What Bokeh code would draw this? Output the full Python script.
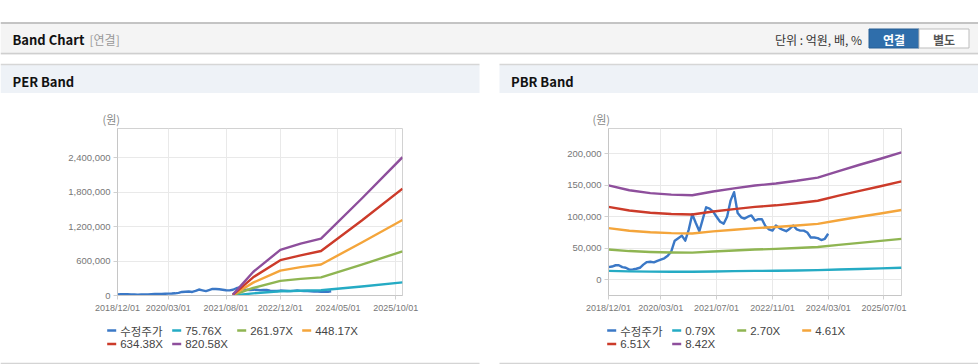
import pandas as pd
from bokeh.plotting import figure
from bokeh.layouts import column, row
from bokeh.models import Range1d, FixedTicker, DatetimeTickFormatter, NumeralTickFormatter
from bokeh.core.properties import value
from bokeh.embed import file_html
from bokeh.resources import INLINE

KR = "Noto Sans CJK KR"
LAT = "Liberation Sans"

# ---------------- data ----------------
price_start = "2018-12-01"
price = [20000, 21000, 23000, 23000, 20000, 19000, 16000, 16500, 17500, 19000,
         24000, 28000, 28500, 27500, 30000, 32000, 34000, 38000, 45000, 62000,
         66000, 70000, 62000, 80000, 104000, 90000, 77000, 95000, 115000, 113000,
         108000, 100000, 92000, 89000, 100000, 126000, 139000, 106000, 99000, 97000,
         100000, 102000, 94000, 96000, 96000, 85000, 80000, 78000, 86000, 82000,
         79000, 77000, 81000, 86000, 80000, 78000, 78000, 75000, 67000, 67000,
         66000, 63000, 65000, 73000]

per_dates = ["2021/10/01", "2022/04/01", "2022/12/01", "2023/06/01", "2023/12/01", "2024/12/01", "2025/12/01"]
per_labels = ["수정주가", "75.76X", "261.97X", "448.17X", "634.38X", "820.58X"]
per_0758 = [1400, 37800, 73400, 83500, 91400, 156000, 228000]
per_2620 = [4800, 131000, 254000, 289000, 316000, 539000, 769000]
per_4482 = [8200, 224000, 434000, 494000, 541000, 923000, 1316000]
per_6344 = [11600, 317000, 615000, 700000, 775000, 1307000, 1863000]
per_8206 = [15000, 410000, 795000, 905000, 990000, 1690000, 2410000]

pbr_dates = ["2018/12/01", "2019/06/01", "2019/12/01", "2020/06/01", "2020/12/01", "2021/06/01",
             "2021/12/01", "2022/06/01", "2022/12/01", "2023/06/01", "2023/12/01", "2024/06/01",
             "2024/12/01", "2025/06/01", "2025/12/01"]
pbr_labels = ["수정주가", "0.79X", "2.70X", "4.61X", "6.51X", "8.42X"]
pbr_079 = [14000, 13300, 12900, 12700, 12600, 13100, 13600, 14000, 14300, 14700, 15200, 16200, 17100, 18000, 19000]
pbr_270 = [48000, 45500, 44100, 43300, 43000, 44900, 46500, 47900, 49000, 50300, 51900, 55300, 58500, 61600, 64800]
pbr_461 = [82000, 77700, 75300, 73900, 73400, 76700, 79400, 81900, 83700, 86000, 88700, 94400, 99900, 105100, 110600]
pbr_651 = [115700, 109800, 106300, 104400, 103600, 108200, 112100, 115600, 118100, 121400, 125300, 133400, 141100, 148400, 156200]
pbr_842 = [149700, 142000, 137500, 135000, 134000, 140000, 145000, 149500, 152800, 157000, 162000, 172500, 182500, 192000, 202000]

per_xticks = ["2018/12/01", "2020/03/01", "2021/08/01", "2022/12/01", "2024/05/01", "2025/10/01"]
pbr_xticks = ["2018/12/01", "2020/03/01", "2021/07/01", "2022/11/01", "2024/03/01", "2025/07/01"]
per_yticks = [0, 600000, 1200000, 1800000, 2400000]
pbr_yticks = [0, 50000, 100000, 150000, 200000]

colors = ["#3b78c6", "#25abc4", "#8fb552", "#f4a53b", "#cc3b2a", "#8e4f9c"]

# ---------------- helpers ----------------
def ts(s):
    return pd.Timestamp(s.replace("/", "-"))

def ms(s):
    return ts(s).value // 10**6

price_x = pd.date_range(price_start, periods=len(price), freq="MS")
LW = 2.4


def deco(w, h, x0, x1, y0, y1):
    f = figure(width=w, height=h, x_range=Range1d(x0, x1), y_range=Range1d(y1, y0),
               output_backend="svg", toolbar_location=None, min_border=0,
               x_axis_location=None, y_axis_location=None)
    f.grid.visible = False
    f.outline_line_color = None
    f.background_fill_color = "white"
    f.border_fill_color = "white"
    return f


def txt(f, x, y, s, font=KR, size="12px", color="#333", bold=False, align="left"):
    f.text(x=[x], y=[y], text=[s], text_font=value(font), text_font_size=size,
           text_color=color, text_font_style="bold" if bold else "normal",
           text_align=align, text_baseline="middle")


def hline(f, x0, x1, y, color, w=1):
    f.segment(x0=[x0], y0=[y], x1=[x1], y1=[y], line_color=color, line_width=w)


# ---------------- header (page y 0..93) ----------------
H = deco(978, 93, 0, 978, 0, 93)
H.quad(left=[0], right=[978], top=[23], bottom=[52.5], fill_color="#f4f4f4", line_color=None)
hline(H, 0, 978, 22.5, "#b0b0b0", 1.5)
hline(H, 0, 978, 52.8, "#c4c4c4", 1)
hline(H, 0, 978, 54, "#ebebeb", 1)
txt(H, 12, 38.5, "Band Chart", size="13px", color="#111", bold=True)
txt(H, 89, 38.5, "[연결]", size="12px", color="#999")
txt(H, 861.5, 38.5, "단위 : 억원, 배, %", size="12px", color="#333", align="right")
H.quad(left=[868.5], right=[918.5], top=[28.5], bottom=[47.5], fill_color="#2f6eab", line_color="#285f94")
H.quad(left=[918.5], right=[968.5], top=[28.5], bottom=[47.5], fill_color="#ffffff", line_color="#bdbdbd")
txt(H, 893.5, 38.5, "연결", size="12px", color="#ffffff", bold=True, align="center")
txt(H, 943.5, 38.5, "별도", size="12px", color="#555", bold=True, align="center")
for (a, b, name, tx) in [(0, 479, "PER Band", 12), (499, 978, "PBR Band", 510.5)]:
    H.quad(left=[a], right=[b], top=[64.5], bottom=[93], fill_color="#eef2f7", line_color=None)
    hline(H, a, b, 64, "#d6d6d6", 1.5)
    txt(H, tx, 80.5, name, size="13px", color="#111", bold=True)


# ---------------- charts (page y 93..320) ----------------
fmt = "%Y/%m/%d"


def chart(width, bl, br, yr, yticks, xticks, title_offset):
    p = figure(width=width, height=227, x_axis_type="datetime",
               x_range=Range1d(ts("2018/12/01"), ts("2025/12/01")),
               y_range=Range1d(*yr), output_backend="svg", toolbar_location=None,
               min_border_left=bl, min_border_right=br, min_border_top=35, min_border_bottom=25,
               title="(원)")
    p.title.text_font = KR
    p.title.text_font_size = "11px"
    p.title.text_font_style = "normal"
    p.title.text_color = "#888"
    p.title.align = "left"
    p.title.offset = title_offset
    p.title.standoff = 3
    p.background_fill_color = "white"
    p.border_fill_color = "white"
    p.outline_line_color = "#d2d2d2"

    p.xaxis.ticker = FixedTicker(ticks=[ms(s) for s in xticks])
    p.xaxis.formatter = DatetimeTickFormatter(
        milliseconds=fmt, seconds=fmt, minsec=fmt, minutes=fmt, hourmin=fmt,
        hours=fmt, days=fmt, months=fmt, years=fmt)
    p.yaxis.ticker = FixedTicker(ticks=yticks)
    p.yaxis.formatter = NumeralTickFormatter(format="0,0")
    for ax in (p.xaxis, p.yaxis):
        ax.axis_line_color = "#c6c6c6"
        ax.major_tick_in = 0
        ax.major_tick_out = 4
        ax.major_tick_line_color = "#d0d0d0"
        ax.minor_tick_line_color = None
        ax.major_label_text_font = LAT
        ax.major_label_text_color = "#777"
    p.xaxis.major_label_text_font_size = "9px"
    p.xaxis.major_label_standoff = 3
    p.yaxis.major_label_text_font_size = "9.5px"
    p.yaxis.major_label_standoff = 3
    p.grid.grid_line_color = "#e9e9e9"
    return p


L = chart(489, 117, 87, (0, 2910000), per_yticks, per_xticks, -15)
R = chart(489, 119, 77, (-25000, 240000), pbr_yticks, pbr_xticks, -16)

L.line(price_x, price, line_color=colors[0], line_width=LW, line_join="round")
per_x = [ts(s) for s in per_dates]
for c, ys in zip(colors[1:], [per_0758, per_2620, per_4482, per_6344, per_8206]):
    L.line(per_x, ys, line_color=c, line_width=LW, line_join="round")

R.line(price_x, price, line_color=colors[0], line_width=LW, line_join="round")
pbr_x = [ts(s) for s in pbr_dates]
for c, ys in zip(colors[1:], [pbr_079, pbr_270, pbr_461, pbr_651, pbr_842]):
    R.line(pbr_x, ys, line_color=c, line_width=LW, line_join="round")


# ---------------- legends (page y 320..364) ----------------
G = deco(978, 44, 0, 978, 320, 364)
for (base, labels) in [(106.7, per_labels), (606.7, pbr_labels)]:
    for i, (lab, c) in enumerate(zip(labels, colors)):
        col, rw = i % 4, i // 4
        x = base + col * 65
        y = 330 if rw == 0 else 343.5
        G.segment(x0=[x], y0=[y], x1=[x + 9], y1=[y], line_color=c, line_width=2.5)
        font = KR if lab == "수정주가" else LAT
        txt(G, x + 13, y, lab, font=font, size="11.5px", color="#444")
G.quad(left=[0], right=[479], top=[362.3], bottom=[364], fill_color="#d4d4d4", line_color=None)
G.quad(left=[499], right=[978], top=[362.3], bottom=[364], fill_color="#d4d4d4", line_color=None)

layout = column(H, row(L, R, spacing=0), G, spacing=0)

open("out.html", "w").write(file_html(layout, INLINE))
